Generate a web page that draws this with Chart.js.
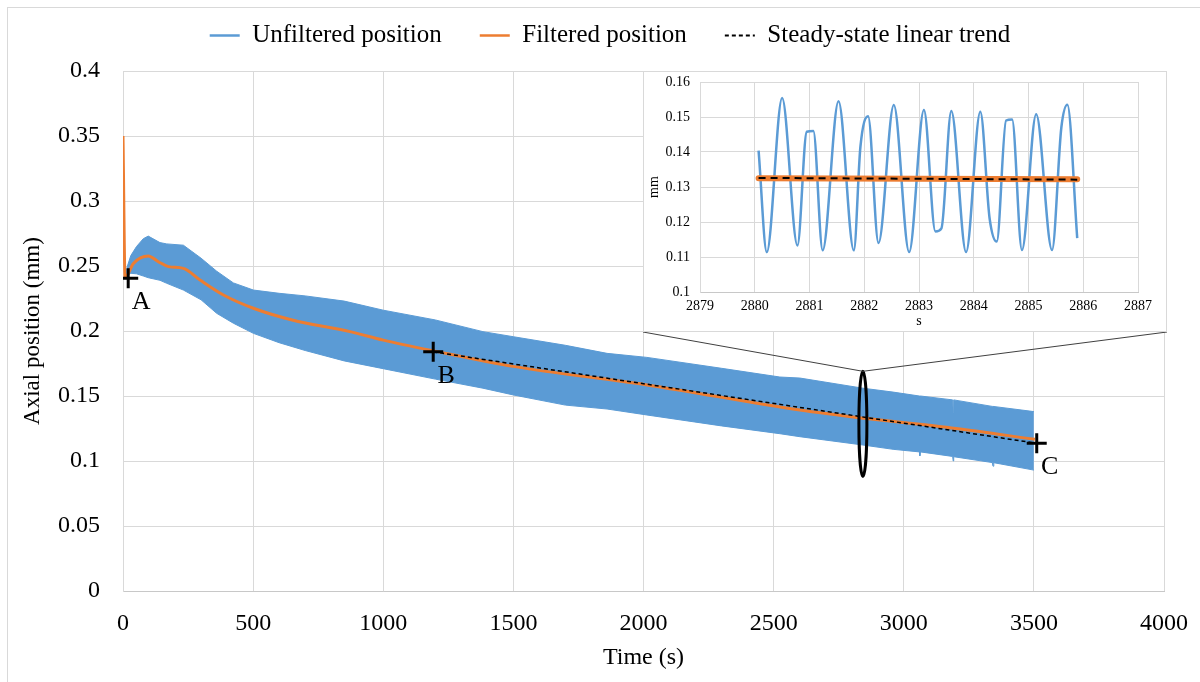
<!DOCTYPE html>
<html>
<head>
<meta charset="utf-8">
<title>Axial position</title>
<script src="https://cdn.jsdelivr.net/npm/chart.js@4.4.1/dist/chart.umd.min.js"></script>
<style>
  html, body { margin: 0; padding: 0; background: #fff; }
  #wrap { position: relative; width: 1200px; height: 682px; overflow: hidden; }
  #inset { position: absolute; left: 643px; top: 71px; width: 522px; height: 259px; border: 1px solid #d9d9d9; background: #fff; }
  canvas { display: block; }
</style>
</head>
<body>
<div id="wrap">
  <canvas id="mainChart" width="1200" height="682"></canvas>
  <div id="inset"><canvas id="insetChart" width="522" height="259"></canvas></div>
</div>
<script>
var serif = "'Liberation Serif', 'Times New Roman', serif";
Chart.defaults.font.family = serif;
Chart.defaults.color = '#000';

// Unfiltered signal: upper / lower edge of the oscillation band
var bandTime  = [5, 17, 30, 52, 78, 97, 142, 168, 232, 300, 360, 424, 501, 600, 700, 850, 1000, 1200, 1383, 1500, 1700, 1860, 2013, 2300, 2524, 2601, 2843, 2959, 3060, 3062, 3064, 3188, 3190, 3192, 3340, 3343, 3346, 3500];
var bandUpper = [0.240, 0.250, 0.258, 0.265, 0.271, 0.273, 0.268, 0.267, 0.266, 0.256, 0.246, 0.237, 0.2315, 0.229, 0.227, 0.223, 0.216, 0.2085, 0.1995, 0.1956, 0.189, 0.1828, 0.1797, 0.1713, 0.1646, 0.1638, 0.156, 0.153, 0.150, 0.150, 0.150, 0.147, 0.137, 0.147, 0.142, 0.142, 0.142, 0.138];
var bandLower = [0.240, 0.243, 0.2444, 0.244, 0.2423, 0.241, 0.239, 0.2367, 0.2315, 0.224, 0.2136, 0.206, 0.1982, 0.191, 0.185, 0.177, 0.171, 0.163, 0.156, 0.1508, 0.143, 0.140, 0.1354, 0.127, 0.121, 0.1187, 0.1123, 0.109, 0.107, 0.104, 0.107, 0.1035, 0.100, 0.1033, 0.0988, 0.096, 0.0987, 0.093];

// Filtered position
var filtTime = [0, 8, 40, 97, 136, 175, 232, 296, 386, 501, 650, 872, 1000, 1200, 1506, 2013, 2601, 2850, 3200, 3504];
var filtPos  = [0.35, 0.241, 0.252, 0.2577, 0.2533, 0.2495, 0.2482, 0.2392, 0.2277, 0.2175, 0.2085, 0.1995, 0.193, 0.1845, 0.1726, 0.1585, 0.1392, 0.1328, 0.125, 0.1167];

// Steady-state linear trend
var trendTime = [1192, 3511];
var trendPos  = [0.184, 0.1136];

// A, B, C markers
var markTime  = [20, 1192, 3511];
var markPos   = [0.2405, 0.184, 0.1136];
var markNames = ['A', 'B', 'C'];

// zoom ellipse (time, position range)
var zoomTime = 2843;
var zoomPos  = [0.088, 0.169];

var xTicks = [0, 500, 1000, 1500, 2000, 2500, 3000, 3500, 4000];
var yTicks = [0, 0.05, 0.1, 0.15, 0.2, 0.25, 0.3, 0.35, 0.4];

// inset: 2880 - 2886 s
var insetTime = [2880.07, 2880.22, 2880.50, 2880.78, 2880.95, 2881.07, 2881.24, 2881.53, 2881.81, 2881.93, 2882.07, 2882.26, 2882.54, 2882.82, 2883.09, 2883.30, 2883.41, 2883.59, 2883.86, 2884.12, 2884.29, 2884.42, 2884.59, 2884.70, 2884.88, 2885.14, 2885.43, 2885.60, 2885.71, 2885.89];
var insetPos  = [0.1404, 0.1114, 0.1554, 0.1133, 0.1458, 0.146, 0.1119, 0.1545, 0.1119, 0.1415, 0.1502, 0.114, 0.1534, 0.1114, 0.152, 0.1173, 0.1182, 0.1517, 0.1114, 0.1515, 0.121, 0.1144, 0.149, 0.1493, 0.112, 0.1508, 0.112, 0.147, 0.1535, 0.1154];
var insetFiltTime = [2880.07, 2885.89];
var insetFiltPos  = [0.1325, 0.1322];
var insetTrendPos = [0.1326, 0.1321];
var insetXTicks = [2879, 2880, 2881, 2882, 2883, 2884, 2885, 2886, 2887];
var insetYTicks = [0.1, 0.11, 0.12, 0.13, 0.14, 0.15, 0.16];

var blue = '#5B9BD5', orange = '#ED7D31', gridColor = '#d9d9d9';

function pts(xs, ys) {
  return xs.map(function(x, i) { return {x: x, y: ys[i]}; });
}
function fixedTicks(list) {
  return function(scale) { scale.ticks = list.map(function(v) { return {value: v}; }); };
}
function plainLabel(v) { return String(v); }
// fixed axis size, no extra room for overhanging labels
function fixHeight(h) {
  return function(s) { s.height = h; s.paddingLeft = 0; s.paddingRight = 0; };
}
function fixWidth(w) {
  return function(s) { s.width = w; s.paddingTop = 0; s.paddingBottom = 0; };
}

// legend: fixed height above the plot, nudged into place like the original
var legendPlace = {
  id: 'legendPlace',
  beforeInit: function(chart) {
    var fitValue = chart.legend.fit;
    chart.legend.fit = function fit() {
      fitValue.bind(chart.legend)();
      this.height = 71;
    };
  },
  afterLayout: function(chart) {
    chart.legend.top -= 15;
    chart.legend.left += 28;
    chart.legend.right += 28;
  }
};

// background, outer frame, letters, zoom ellipse and connector lines
var annotate = {
  id: 'annotate',
  beforeDraw: function(chart) {
    var ctx = chart.ctx;
    ctx.save();
    ctx.fillStyle = '#fff';
    ctx.fillRect(0, 0, chart.width, chart.height);
    ctx.strokeStyle = gridColor;
    ctx.lineWidth = 1;
    ctx.strokeRect(7.5, 7.5, chart.width, chart.height);
    ctx.restore();
  },
  afterDatasetsDraw: function(chart) {
    var ctx = chart.ctx, xs = chart.scales.x, ys = chart.scales.y;
    ctx.save();
    ctx.font = '26px ' + serif;
    ctx.fillStyle = '#000';
    ctx.textAlign = 'center';
    ctx.textBaseline = 'middle';
    markNames.forEach(function(n, i) {
      ctx.fillText(n, xs.getPixelForValue(markTime[i]) + 13, ys.getPixelForValue(markPos[i]) + 24);
    });
    var ex = xs.getPixelForValue(zoomTime);
    var top = ys.getPixelForValue(zoomPos[1]);
    var bot = ys.getPixelForValue(zoomPos[0]);
    ctx.beginPath();
    ctx.ellipse(ex, (top + bot) / 2, 4, (bot - top) / 2, 0, 0, Math.PI * 2);
    ctx.lineWidth = 3;
    ctx.strokeStyle = '#000';
    ctx.stroke();
    var box = document.getElementById('inset');
    var left = box.offsetLeft, right = box.offsetLeft + box.offsetWidth, bottom = box.offsetTop + box.offsetHeight;
    ctx.beginPath();
    ctx.moveTo(left, bottom);
    ctx.lineTo(ex, top);
    ctx.lineTo(right, bottom);
    ctx.lineWidth = 1;
    ctx.strokeStyle = '#404040';
    ctx.stroke();
    ctx.restore();
  }
};

var mainChart = new Chart(document.getElementById('mainChart'), {
  type: 'line',
  data: {
    datasets: [{
      label: 'Unfiltered position',
      data: pts(bandTime, bandUpper),
      borderColor: blue,
      backgroundColor: blue,
      borderWidth: 1,
      fill: '+1',
      order: 4
    }, {
      label: 'lower',
      data: pts(bandTime, bandLower),
      borderColor: blue,
      borderWidth: 1,
      fill: false,
      order: 5
    }, {
      label: 'Filtered position',
      data: pts(filtTime, filtPos),
      borderColor: orange,
      borderWidth: 3,
      cubicInterpolationMode: 'monotone',
      fill: false,
      order: 2
    }, {
      label: 'Steady-state linear trend',
      data: pts(trendTime, trendPos),
      borderColor: '#000',
      borderWidth: 1.5,
      borderDash: [4, 3],
      fill: false,
      order: 1
    }, {
      label: 'markers',
      data: pts(markTime, markPos),
      showLine: false,
      pointStyle: 'cross',
      pointRadius: 10,
      pointBorderWidth: 3,
      pointBorderColor: '#000',
      order: 0
    }]
  },
  options: {
    responsive: false,
    animation: false,
    layout: { padding: { top: 0, right: 36, bottom: 0, left: 0 } },
    elements: { point: { radius: 0 } },
    plugins: {
      tooltip: { enabled: false },
      legend: {
        position: 'top',
        labels: {
          usePointStyle: true,
          pointStyleWidth: 30,
          padding: 38,
          font: { size: 25 },
          generateLabels: function(chart) {
            return [0, 2, 3].map(function(i) {
              var ds = chart.data.datasets[i];
              return {
                text: ds.label,
                fillStyle: ds.borderColor,
                strokeStyle: ds.borderColor,
                lineWidth: ds.borderDash ? 2 : 2.5,
                lineDash: ds.borderDash ? [4, 3] : [],
                pointStyle: 'line',
                fontColor: '#000',
                datasetIndex: i
              };
            });
          }
        }
      }
    },
    scales: {
      x: {
        type: 'linear',
        min: 0,
        max: 4000,
        afterBuildTicks: fixedTicks(xTicks),
        afterFit: fixHeight(91),
        grid: { color: gridColor, drawTicks: false },
        border: { color: '#c8c8c8' },
        ticks: { padding: 18, font: { size: 24 }, callback: plainLabel, maxRotation: 0 },
        title: { display: true, text: 'Time (s)', font: { size: 24 }, padding: { top: 0, bottom: 10 } }
      },
      y: {
        type: 'linear',
        min: 0,
        max: 0.4,
        afterBuildTicks: fixedTicks(yTicks),
        afterFit: fixWidth(123),
        grid: { color: gridColor, drawTicks: false },
        border: { color: gridColor },
        ticks: { padding: 23, font: { size: 24 }, callback: plainLabel },
        title: { display: true, text: 'Axial position (mm)', font: { size: 23 }, padding: { top: 19, bottom: 0 } }
      }
    }
  },
  plugins: [legendPlace, annotate]
});

var insetChart = new Chart(document.getElementById('insetChart'), {
  type: 'line',
  data: {
    datasets: [{
      label: 'trend',
      data: pts(insetFiltTime, insetTrendPos),
      borderColor: '#000',
      borderWidth: 2,
      borderDash: [7, 5],
      order: 0
    }, {
      label: 'filtered',
      data: pts(insetFiltTime, insetFiltPos),
      borderColor: orange,
      borderWidth: 6,
      borderCapStyle: 'round',
      order: 1
    }, {
      label: 'unfiltered',
      data: pts(insetTime, insetPos),
      borderColor: blue,
      borderWidth: 2.5,
      cubicInterpolationMode: 'monotone',
      order: 2
    }]
  },
  options: {
    responsive: false,
    animation: false,
    layout: { padding: { top: 10, right: 28, bottom: 0, left: 0 } },
    elements: { point: { radius: 0 } },
    plugins: { legend: { display: false }, tooltip: { enabled: false } },
    scales: {
      x: {
        type: 'linear',
        min: 2879,
        max: 2887,
        afterBuildTicks: fixedTicks(insetXTicks),
        afterFit: fixHeight(39),
        grid: { color: gridColor, drawTicks: false },
        border: { color: '#c8c8c8' },
        ticks: { padding: 6, font: { size: 14 }, callback: plainLabel, maxRotation: 0 },
        title: { display: true, text: 's', font: { size: 14 }, padding: { top: 0, bottom: 1 } }
      },
      y: {
        type: 'linear',
        min: 0.1,
        max: 0.16,
        afterBuildTicks: fixedTicks(insetYTicks),
        afterFit: fixWidth(56),
        grid: { color: gridColor, drawTicks: false },
        border: { color: gridColor },
        ticks: { padding: 10, font: { size: 14 }, callback: plainLabel },
        title: { display: true, text: 'mm', font: { size: 14 }, padding: { top: 2, bottom: 0 } }
      }
    }
  }
});
</script>
</body>
</html>
